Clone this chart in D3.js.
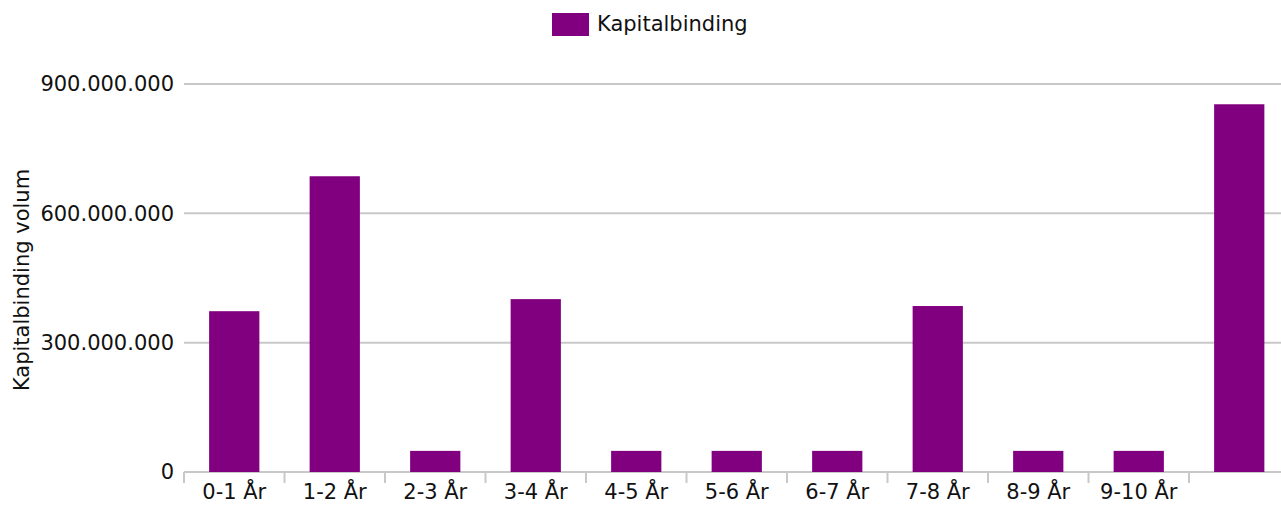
<!DOCTYPE html>
<html lang="no">
<head>
<meta charset="UTF-8"/>
<title>Kapitalbinding</title>
<script src="https://d3js.org/d3.v7.min.js"></script>
<style>
  body { margin: 0; background: #fff; }
  svg { display: block; font-family: "DejaVu Sans", sans-serif; }
  .axis path { display: none; }
  .axis text { font-family: "DejaVu Sans", sans-serif; font-size: 21px; fill: #111; }
</style>
</head>
<body>
<script>
    // Data
    var categories = ["0-1 År", "1-2 År", "2-3 År", "3-4 År", "4-5 År", "5-6 År",
                      "6-7 År", "7-8 År", "8-9 År", "9-10 År", ""];
    var values = [373000000, 686000000, 49000000, 401000000, 49000000, 49000000,
                  49000000, 385000000, 49000000, 49000000, 853000000];
    var yTicks = [0, 300000000, 600000000, 900000000];
    var seriesName = "Kapitalbinding";
    var yTitle = "Kapitalbinding volum";

    var W = 1281, H = 505;
    var plotLeft = 184, plotRight = 1289.5, plotTop = 84, plotBottom = 472;
    var purple = "#800080", grid = "#c8c8c8";

    var svg = d3.select("body").append("svg")
                .attr("width", W)
                .attr("height", H);

    // band for each category (no padding, used for boundaries and labels)
    var xCat = d3.scaleBand()
                 .domain(categories)
                 .range([plotLeft, plotRight]);

    // bars sit in the middle half of each band
    var xBar = d3.scaleBand()
                 .domain(categories)
                 .range([plotLeft, plotRight])
                 .paddingInner(0.5)
                 .paddingOuter(0.25);

    var yScale = d3.scaleLinear()
                   .domain([0, 900000000])
                   .range([plotBottom, plotTop]);

    var fmt = function(d) {
        return d3.format(",")(d).replace(/,/g, ".");
    };

    // gridlines
    svg.append("g")
       .selectAll("line")
       .data(yTicks)
       .enter()
       .append("line")
       .attr("x1", plotLeft)
       .attr("x2", W)
       .attr("y1", function(d) { return yScale(d); })
       .attr("y2", function(d) { return yScale(d); })
       .attr("stroke", grid)
       .attr("stroke-width", 2);

    // bars
    svg.append("g")
       .selectAll("rect")
       .data(values)
       .enter()
       .append("rect")
       .attr("x", function(d, i) { return xBar(categories[i]); })
       .attr("y", function(d) { return yScale(d); })
       .attr("width", xBar.bandwidth())
       .attr("height", function(d) { return plotBottom - yScale(d); })
       .attr("fill", purple);

    // x axis: boundary ticks + centred labels
    svg.append("g")
       .selectAll("line")
       .data(categories)
       .enter()
       .append("line")
       .attr("x1", function(d) { return xCat(d); })
       .attr("x2", function(d) { return xCat(d); })
       .attr("y1", plotBottom)
       .attr("y2", plotBottom + 11)
       .attr("stroke", grid)
       .attr("stroke-width", 2);

    svg.append("g")
       .attr("class", "axis")
       .attr("transform", "translate(0," + plotBottom + ")")
       .call(d3.axisBottom(xCat).tickSize(0).tickPadding(12));

    // y axis labels
    svg.append("g")
       .attr("class", "axis")
       .attr("transform", "translate(" + plotLeft + ",0)")
       .call(d3.axisLeft(yScale).tickValues(yTicks).tickFormat(fmt).tickSize(0).tickPadding(10));

    // y axis title
    svg.append("text")
       .attr("transform", "translate(29,280) rotate(-90)")
       .attr("text-anchor", "middle")
       .attr("font-size", 21)
       .attr("fill", "#111")
       .text(yTitle);

    // legend
    var legend = svg.append("g");
    legend.append("rect")
          .attr("x", 552)
          .attr("y", 13)
          .attr("width", 37)
          .attr("height", 23)
          .attr("fill", purple);
    legend.append("text")
          .attr("x", 597)
          .attr("y", 31)
          .attr("font-size", 21)
          .attr("fill", "#111")
          .text(seriesName);
</script>
</body>
</html>
